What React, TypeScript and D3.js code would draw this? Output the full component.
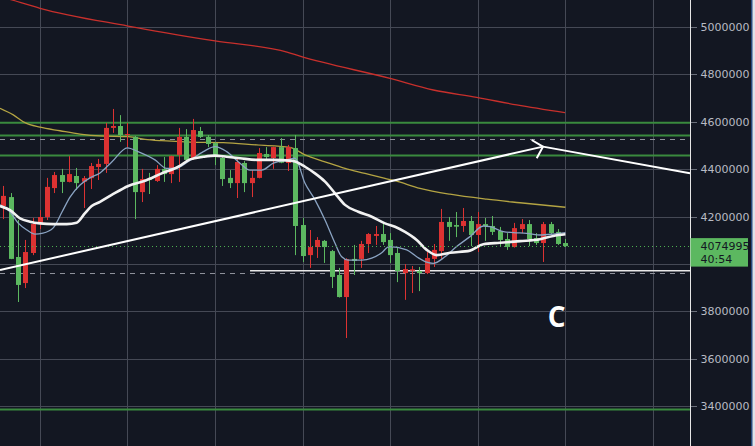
import React from "react";
import * as d3 from "d3";

// ---- candle data (hourly, BTC/KRW) ----
const opens = [4244000,4282000,4029000,3919000,4046000,4173000,4198000,4320000,4375000,4346000,4371000,4347000,4362000,4409000,4422000,4574000,4582000,4544000,4536000,4303000,4358000,4350000,4401000,4379000,4460000,4536000,4443000,4561000,4536000,4510000,4447000,4363000,4341000,4426000,4341000,4363000,4464000,4447000,4493000,4426000,4489000,4164000,4037000,4071000,4097000,4054000,3953000,3860000,4021000,4021000,4084000,4118000,4126000,4101000,4046000,3961000,3971000,3970000,3961000,4021000,4054000,4177000,4164000,4160000,4181000,4122000,4168000,4160000,4139000,4105000,4071000,4147000,4168000,4109000,4088000,4168000,4135000,4088000];
const highs = [4329000,4299000,4185000,4101000,4194000,4227000,4363000,4388000,4401000,4455000,4405000,4371000,4426000,4443000,4595000,4654000,4628000,4595000,4540000,4401000,4384000,4417000,4451000,4457000,4574000,4569000,4612000,4578000,4544000,4515000,4451000,4396000,4447000,4434000,4396000,4489000,4493000,4495000,4531000,4502000,4544000,4194000,4143000,4113000,4101000,4059000,3983000,4024000,4080000,4097000,4130000,4160000,4173000,4130000,4071000,3999000,3991000,3987000,4050000,4084000,4232000,4198000,4219000,4236000,4202000,4219000,4194000,4202000,4156000,4130000,4173000,4189000,4185000,4130000,4177000,4177000,4147000,4105000];
const lows = [4189000,4020000,3839000,3898000,4037000,4147000,4185000,4299000,4299000,4344000,4312000,4236000,4316000,4354000,4384000,4553000,4515000,4493000,4189000,4261000,4295000,4346000,4346000,4341000,4346000,4426000,4439000,4531000,4493000,4417000,4329000,4320000,4278000,4303000,4282000,4361000,4439000,4401000,4425000,4392000,4037000,4008000,3983000,4025000,4004000,3898000,3858000,3687000,3953000,3983000,4046000,4080000,4080000,4004000,3923000,3848000,3877000,3885000,3957000,3987000,4021000,4097000,4113000,4135000,4075000,4050000,4097000,4122000,4075000,4059000,4069000,4130000,4075000,4080000,4008000,4126000,4080000,4071000];
const closes = [4287000,4021000,3911000,4050000,4168000,4198000,4325000,4375000,4346000,4379000,4341000,4362000,4413000,4422000,4574000,4582000,4544000,4548000,4303000,4358000,4354000,4401000,4379000,4455000,4536000,4439000,4565000,4536000,4506000,4451000,4358000,4341000,4430000,4341000,4363000,4468000,4451000,4493000,4427000,4493000,4160000,4033000,4071000,4101000,4071000,3945000,3860000,4020000,4012000,4084000,4126000,4126000,4092000,4037000,3970000,3978000,3977000,3961000,4025000,4059000,4177000,4156000,4157000,4181000,4122000,4168000,4160000,4135000,4101000,4071000,4151000,4168000,4105000,4088000,4168000,4130000,4084000,4074995];

// ---- moving averages: [candle index, price] ----
const maFast: [number, number][] = [[-0.45,4249000],[0.92,4220000],[2.01,4173000],[3.25,4143000],[4.34,4126000],[5.44,4130000],[6.81,4151000],[8.04,4219000],[9.14,4282000],[10.51,4333000],[11.88,4363000],[13.25,4384000],[14.89,4431000],[16.99,4490000],[18.45,4474000],[20.78,4439000],[22.38,4403000],[23.52,4403000],[25.3,4431000],[27.4,4474000],[29.0,4495000],[30.6,4474000],[32.42,4425000],[33.79,4396000],[35.4,4396000],[36.99,4425000],[38.82,4439000],[39.96,4446000],[41.33,4340000],[42.7,4270000],[44.07,4185000],[45.44,4087000],[46.36,4030000],[47.26,4016000],[49.1,4016000],[50.47,4024000],[51.84,4047000],[52.84,4073000],[55.26,4059000],[56.63,4030000],[58.0,4007000],[58.9,4002000],[60.5,4030000],[62.1,4073000],[63.93,4115000],[65.75,4160000],[66.67,4157000],[68.49,4136000],[69.86,4132000],[71.7,4129000],[73.52,4122000],[75.34,4126000],[77,4132000]];
const maMid: [number, number][] = [[-0.45,4244000],[0.92,4227000],[2.29,4192000],[3.66,4178000],[5.03,4171000],[6.85,4168000],[8.68,4168000],[10.05,4174000],[11.19,4214000],[12.11,4244000],[13.25,4262000],[14.85,4291000],[17.12,4329000],[19.41,4351000],[21.7,4382000],[23.97,4410000],[25.58,4441000],[27.4,4452000],[29.0,4457000],[30.6,4452000],[32.42,4446000],[34.71,4439000],[36.99,4439000],[39.27,4436000],[39.96,4432000],[41.33,4410000],[42.7,4382000],[44.07,4347000],[45.44,4298000],[46.81,4249000],[48.63,4220000],[50.47,4199000],[52.29,4171000],[53.66,4157000],[55.03,4135000],[56.63,4101000],[58.0,4059000],[59.37,4037000],[61.19,4047000],[63.93,4056000],[65.75,4083000],[68.04,4089000],[70.78,4096000],[73.52,4104000],[75.34,4118000],[77,4125000]];
const maSlow: [number, number][] = [[-0.45,4657000],[1.37,4629000],[2.97,4596000],[5.03,4577000],[7.77,4562000],[10.51,4548000],[13.25,4540000],[17.12,4537000],[19.41,4526000],[21.7,4520000],[25.6,4514000],[30.14,4512000],[34.71,4502000],[39.27,4492000],[41.33,4460000],[44.07,4431000],[46.81,4403000],[49.55,4382000],[52.29,4361000],[53.66,4351000],[57.08,4319000],[61.19,4294000],[66.22,4273000],[70.78,4258000],[77,4239000]];
const maLong: [number, number][] = [[-0.45,5129000],[1.19,5114000],[5.03,5079000],[17.08,5004000],[29.0,4941000],[38.86,4894000],[40.64,4877000],[52.97,4783000],[58.9,4734000],[64.85,4703000],[70.33,4671000],[76.95,4638000]];

// ---- drawn levels / trend lines ----
const greenLevels = [4596000, 4542000, 4458000, 3385000];
const dashedLevels = [4527000, 3961000];
const whiteLevel = { from: 33.8, price: 3971000 };
const trendUp: [number, number][] = [[-0.45, 3974000], [73.93, 4495000]];
const trendDown: [number, number][] = [[73.93, 4495000], [94.07, 4382000]];
const arrowHead: [number, number][] = [[72.38, 4523000], [73.93, 4495000], [73.07, 4446000]];

const priceTicks = [3400000, 3600000, 3800000, 4000000, 4200000, 4400000, 4600000, 4800000, 5000000];
const timeGridIdx = [5, 17, 29, 41, 53, 65, 77, 89];
const lastPrice = 4074995;
const countdown = "40:54";
const waveLabel = "C";

const W = 755, H = 446, PLOT_R = 690;
const BG = "#131722";
const UP = "#dc3232";
const DOWN = "#5cb860";

export default function App() {
  const x = d3.scaleLinear().domain([0, 77]).range([3.3, 565.4]);
  const y = d3.scaleLinear().domain([3400000, 5000000]).range([406, 27]);
  const line = d3.line<[number, number]>().x(d => x(d[0])).y(d => y(d[1])).curve(d3.curveMonotoneX);
  const straight = d3.line<[number, number]>().x(d => x(d[0])).y(d => y(d[1]));
  const bw = 5;
  const font = "'DejaVu Sans', sans-serif";
  const px = (v: number) => Math.round(v) + 0.5;
  const boxTop = y(lastPrice) - 8;
  const boxH = 28.5;
  // tick labels hidden where the last-price box covers them
  const labelTicks = priceTicks.filter(t => y(t) + 5 < boxTop || y(t) - 5 > boxTop + boxH);

  return (
    <svg width={W} height={H} style={{ position: "fixed", top: 0, left: 0, display: "block" }}>
      <defs>
        <clipPath id="plot"><rect x={0} y={0} width={PLOT_R} height={H} /></clipPath>
      </defs>
      <rect x={0} y={0} width={W} height={H} fill={BG} />
      <g clipPath="url(#plot)">
        {priceTicks.map(t => (
          <line key={"h" + t} x1={0} x2={PLOT_R} y1={px(y(t))} y2={px(y(t))} stroke="#454955" strokeWidth={1} />
        ))}
        {timeGridIdx.map(i => (
          <line key={"v" + i} x1={px(x(i))} x2={px(x(i))} y1={0} y2={H} stroke="#454955" strokeWidth={1} />
        ))}
        {greenLevels.map(p => (
          <line key={"g" + p} x1={0} x2={PLOT_R} y1={y(p)} y2={y(p)} stroke="#3a8a3e" strokeWidth={2} />
        ))}
        {dashedLevels.map(p => (
          <line key={"d" + p} x1={0} x2={PLOT_R} y1={px(y(p))} y2={px(y(p))} stroke="#8e919b" strokeWidth={1} strokeDasharray="5,5" />
        ))}
        <line x1={x(whiteLevel.from)} x2={PLOT_R} y1={y(whiteLevel.price)} y2={y(whiteLevel.price)} stroke="#e8e8e8" strokeWidth={1.5} />
        <path d={line(maLong) || ""} fill="none" stroke="#c8302c" strokeWidth={1.3} />
        <path d={line(maSlow) || ""} fill="none" stroke="#b4a443" strokeWidth={1.3} />
        {opens.map((o, i) => {
          const c = closes[i];
          const col = c >= o ? UP : DOWN;
          const cx = x(i);
          const top = y(Math.max(o, c));
          const bot = y(Math.min(o, c));
          return (
            <g key={"c" + i}>
              <line x1={px(cx)} x2={px(cx)} y1={y(highs[i])} y2={y(lows[i])} stroke={col} strokeWidth={1} />
              <rect x={Math.round(cx) + 0.5 - bw / 2} y={top} width={bw} height={Math.max(1, bot - top)} fill={col} />
            </g>
          );
        })}
        <path d={line(maFast) || ""} fill="none" stroke="#8aa3c2" strokeWidth={1.3} />
        <path d={line(maMid) || ""} fill="none" stroke="#f2f2f2" strokeWidth={2.6} />
        <line x1={0} x2={PLOT_R} y1={px(y(lastPrice))} y2={px(y(lastPrice))} stroke="#4caf50" strokeWidth={1} strokeDasharray="1,3" />
        <path d={straight(trendUp) || ""} fill="none" stroke="#ffffff" strokeWidth={2} />
        <path d={straight(trendDown) || ""} fill="none" stroke="#ffffff" strokeWidth={2} />
        <path d={straight(arrowHead) || ""} fill="none" stroke="#ffffff" strokeWidth={2} />
        <text x={x(75.8)} y={y(3735000)} fill="#ffffff" fontFamily="'Open Sans', sans-serif" fontWeight={700} fontSize={28} textAnchor="middle">{waveLabel}</text>
      </g>
      {/* price axis */}
      <line x1={PLOT_R + 0.5} x2={PLOT_R + 0.5} y1={0} y2={H} stroke="#e6e6e6" strokeWidth={1} />
      {priceTicks.map(t => (
        <line key={"tk" + t} x1={PLOT_R + 1} x2={PLOT_R + 7} y1={px(y(t))} y2={px(y(t))} stroke="#6b6f7a" strokeWidth={1} />
      ))}
      {labelTicks.map(t => (
        <text key={"t" + t} x={700.5} y={y(t) + 4} fill="#b8bbc4" fontFamily={font} fontSize={11}>{t}</text>
      ))}
      <rect x={PLOT_R + 0.5} y={boxTop} width={57.5} height={boxH} fill="#5cb860" />
      <text x={700.5} y={y(lastPrice) + 4} fill="#131722" fontFamily={font} fontSize={11}>{lastPrice}</text>
      <text x={700.5} y={y(lastPrice) + 17} fill="#131722" fontFamily={font} fontSize={11}>{countdown}</text>
      <line x1={752} x2={752} y1={0} y2={H} stroke="#3f7fd8" strokeWidth={1} />
      <rect x={752.5} y={0} width={3} height={H} fill="#dfe2e8" />
    </svg>
  );
}
